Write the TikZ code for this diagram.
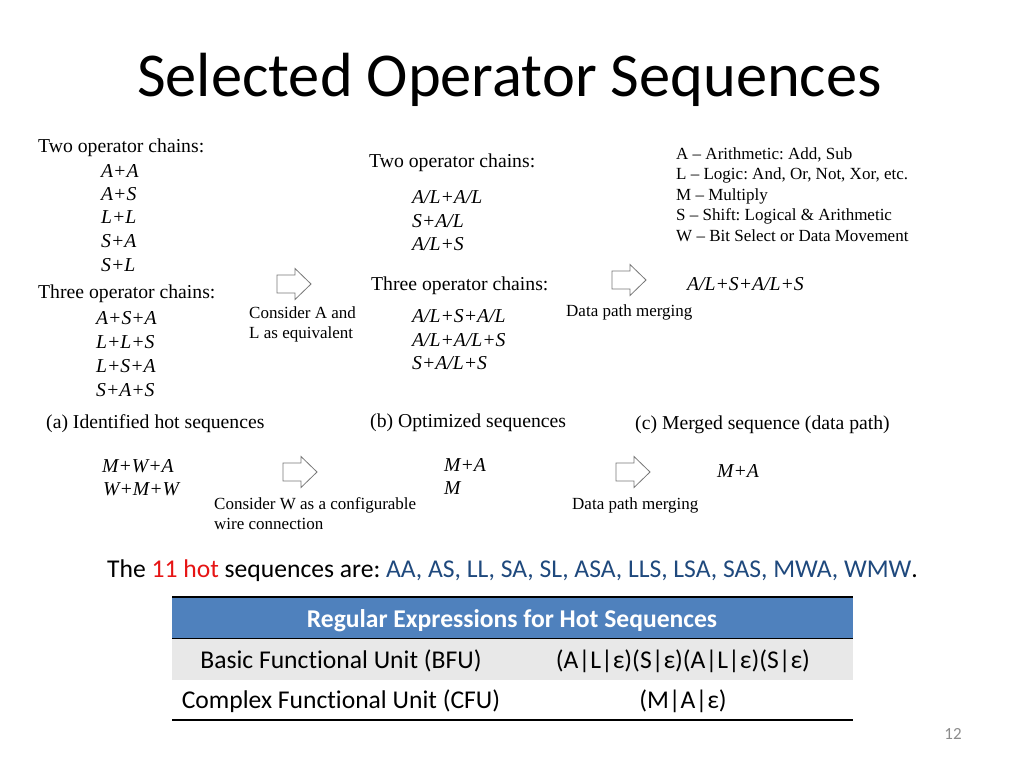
\documentclass[tikz,border=0pt]{standalone}
\usepackage{fontspec}
\setmainfont{Liberation Serif}
\newfontfamily\calfont[Ligatures={NoCommon}]{Carlito}
\definecolor{hdrblue}{RGB}{79,129,189}
\definecolor{rowgray}{RGB}{232,232,232}
\definecolor{seqblue}{RGB}{31,73,125}
\definecolor{hotred}{RGB}{230,20,20}
\definecolor{arrgray}{RGB}{120,120,120}
\definecolor{pggray}{RGB}{140,140,140}
\frenchspacing
\tikzset{
  lbl/.style={anchor=base west, inner sep=0pt, font=\fontsize{19.7}{23}\selectfont},
  seq/.style={anchor=base west, inner sep=0pt, font=\fontsize{19.7}{23}\selectfont\itshape},
  sml/.style={anchor=base west, inner sep=0pt, font=\fontsize{17}{20}\selectfont},
  tbl/.style={anchor=base, inner sep=0pt, font=\calfont\fontsize{25.6}{30}\selectfont},
  blockarr/.pic={\draw[arrgray, line width=0.8pt, fill=white, line join=miter]
     (0,-9) -- (18,-9) -- (18,-15.5) -- (34,0) -- (18,15.5) -- (18,9) -- (0,9) -- cycle;}
}
\begin{document}
\begin{tikzpicture}[x=1pt,y=-1pt]
\useasboundingbox (0,0) rectangle (1024,768);
\fill[white] (0,0) rectangle (1024,768);
% title
\node[anchor=base west, inner sep=0pt, font=\calfont\fontsize{62.4}{70}\selectfont] (title) at (137,96) {Selected Operator Sequences};
% column (a)
\node[lbl] (ta2) at (38,152) {Two operator chains:};
\node[seq] (a1) at (101,177) {A+A};
\node[seq] (a2) at (101,200) {A+S};
\node[seq] (a3) at (101,223.5) {L+L};
\node[seq] (a4) at (101,247) {S+A};
\node[seq] (a5) at (101,271) {S+L};
\node[lbl] (ta3) at (38,298) {Three operator chains:};
\node[seq] (b1) at (96,324) {A+S+A};
\node[seq] (b2) at (96,348) {L+L+S};
\node[seq] (b3) at (96,372) {L+S+A};
\node[seq] (b4) at (96,396) {S+A+S};
\node[lbl] (capa) at (46,428) {(a) Identified hot sequences};
\node[seq] (c1) at (102,472) {M+W+A};
\node[seq] (c2) at (103,495) {W+M+W};
% arrow 1
\pic at (277,284) {blockarr};
\node[sml] (consA1) at (249,318) {Consider A and};
\node[sml] (consA2) at (249,338) {L as equivalent};
% column (b)
\node[lbl] (tb2) at (369,167) {Two operator chains:};
\node[seq] (d1) at (412,203) {A/L+A/L};
\node[seq] (d2) at (412,227) {S+A/L};
\node[seq] (d3) at (412,250) {A/L+S};
\node[lbl] (tb3) at (371,290) {Three operator chains:};
\node[seq] (e1) at (412,322) {A/L+S+A/L};
\node[seq] (e2) at (412,346) {A/L+A/L+S};
\node[seq] (e3) at (412,369) {S+A/L+S};
\node[lbl] (capb) at (370,427) {(b) Optimized sequences};
\node[seq] (f1) at (444,471) {M+A};
\node[seq] (f2) at (444,494) {M};
% arrow 3
\pic at (283,472) {blockarr};
\node[sml] (consW1) at (214,509) {Consider W as a configurable};
\node[sml] (consW2) at (214,529) {wire connection};
% arrow 2
\pic at (612,280) {blockarr};
\node[sml] (merge1) at (566,316) {Data path merging};
\node[seq] (res1) at (687,290) {A/L+S+A/L+S};
% legend
\node[sml] (lg1) at (676,159) {A – Arithmetic: Add, Sub};
\node[sml] (lg2) at (676,179) {L – Logic: And, Or, Not, Xor, etc.};
\node[sml] (lg3) at (676,200) {M – Multiply};
\node[sml] (lg4) at (676,220) {S – Shift: Logical \& Arithmetic};
\node[sml] (lg5) at (676,241) {W – Bit Select or Data Movement};
% column (c)
\node[lbl] (capc) at (635,429) {(c) Merged sequence (data path)};
\pic at (616,472) {blockarr};
\node[sml] (merge2) at (572,509) {Data path merging};
\node[seq] (res2) at (717,477) {M+A};
% sentence
\node[anchor=base west, inner sep=0pt, font=\calfont\fontsize{25.6}{30}\selectfont] (sent) at (107,577)
  {The \textcolor{hotred}{11 hot} sequences are: \textcolor{seqblue}{AA, AS, LL, SA, SL, ASA, LLS, LSA, SAS, MWA, WMW}.};
% table
\fill[hdrblue] (172,597) rectangle (853,638);
\fill[rowgray] (172,638) rectangle (853,680);
\draw[black, line width=1.5pt] (172,597) -- (853,597);
\draw[black, line width=1pt] (172,638) -- (853,638);
\draw[black, line width=2pt] (172,720) -- (853,720);
\node[tbl, text=white, font=\calfont\bfseries\fontsize{25.6}{30}\selectfont] (hdr) at (512,627) {Regular Expressions for Hot Sequences};
\node[tbl] (r1c1) at (341,668) {Basic Functional Unit (BFU)};
\node[tbl] (r1c2) at (683,668) {(A|L|ε)(S|ε)(A|L|ε)(S|ε)};
\node[tbl] (r2c1) at (341,708) {Complex Functional Unit (CFU)};
\node[tbl] (r2c2) at (683,708) {(M|A|ε)};
% page number
\node[anchor=base, inner sep=0pt, text=pggray, font=\calfont\fontsize{17}{20}\selectfont] (pg) at (953,739) {12};
\end{tikzpicture}
\end{document}
